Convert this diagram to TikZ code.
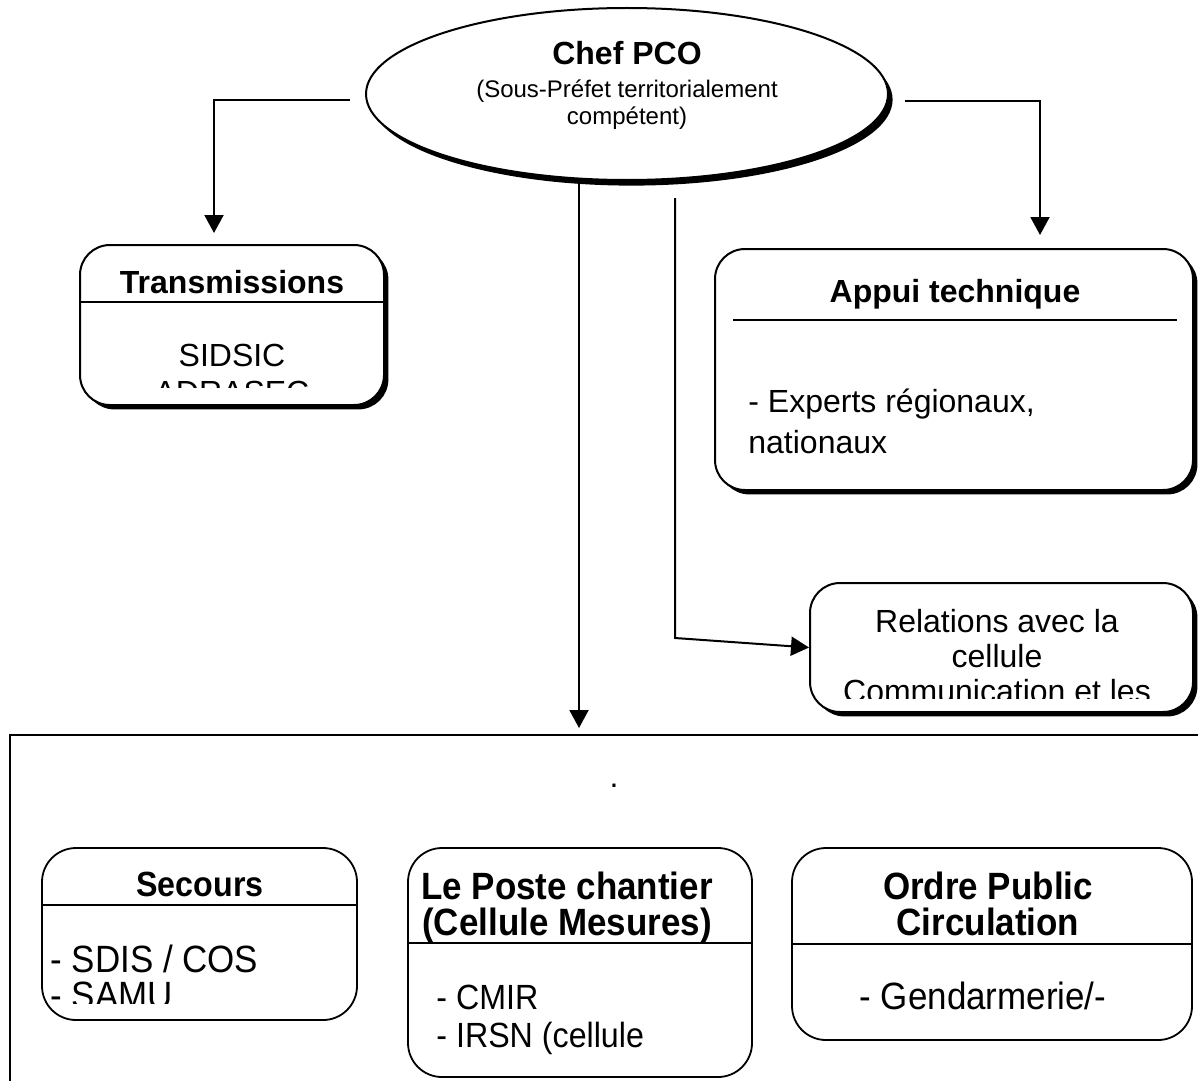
\documentclass[tikz,border=0pt]{standalone}
\usepackage{fontspec}
\setmainfont{Liberation Sans}
\newfontfamily\condfont[FakeStretch=0.92]{Liberation Sans}
\usetikzlibrary{shapes.geometric,arrows.meta,shadows}
\begin{document}
\begin{tikzpicture}[x=0.5pt,y=-0.5pt,
  conn/.style={line width=1pt},
  arr/.style={conn,-{Triangle[length=9pt,width=9.5pt]}},
  shd/.style={drop shadow={shadow xshift=2.2pt,shadow yshift=-2.2pt,fill=black,opacity=1}},
  topbox/.style={draw,line width=1pt,rounded corners=15pt,fill=white,shd,inner sep=0pt},
  botbox/.style={draw,line width=0.9pt,rounded corners=17pt,inner sep=0pt},
  sep/.style={line width=0.8pt},
  ttl/.style={font=\fontsize{16}{18}\selectfont\bfseries,align=center,inner sep=0pt,anchor=north},
  body/.style={font=\fontsize{16}{18}\selectfont,inner sep=0pt},
]
\useasboundingbox (0,0) rectangle (1198,1081);

% ---- Chef PCO ellipse
\node[ellipse,draw,line width=1pt,fill=white,inner sep=0pt,
      minimum width=261pt,minimum height=86pt,
      drop shadow={shadow xshift=2.3pt,shadow yshift=-2.8pt,fill=black,opacity=1}] (chef) at (627,94) {};
\node[font=\fontsize{16}{18}\selectfont\bfseries,inner sep=0pt,anchor=north] (chefT) at (627,41) {Chef PCO};
\node[font=\fontsize{12}{13.5}\selectfont,align=center,inner sep=0pt,anchor=north] (chefS) at (627,79) {(Sous-Préfet territorialement\\compétent)};

% ---- Transmissions
\node[topbox,minimum width=152pt,minimum height=80pt] (trans) at (232,325) {};
\node[ttl] (transT) at (232,269.5) {Transmissions};
\draw[sep] (80,302) -- (384,302);
\begin{scope}
  \clip (80,303) rectangle (384,387);
  \node[body,align=center,anchor=north,font=\fontsize{16}{18.5}\selectfont] (transB) at (232,343.5) {SIDSIC\\ADRASEC};
\end{scope}

% ---- Appui technique
\node[topbox,minimum width=239pt,minimum height=120.5pt] (app) at (954,369.5) {};
\node[ttl] (appT) at (955,278.5) {Appui technique};
\draw[sep] (733,320) -- (1177,320);
\node[body,align=left,anchor=north west,font=\fontsize{16}{20.5}\selectfont] (appB) at (748,388.5) {- Experts régionaux,\\nationaux};

% ---- Relations
\node[topbox,minimum width=191.5pt,minimum height=64.5pt] (rel) at (1001.5,647.5) {};
\begin{scope}
  \clip (810,583) rectangle (1193,698);
  \node[body,align=center,anchor=north,font=\fontsize{16}{17.5}\selectfont] (relB) at (997,608.5) {Relations avec la\\cellule\\Communication et les};
\end{scope}

% ---- big frame
\draw[line width=1.2pt] (1198,735) -- (10,735) -- (10,1081);
\node[body,anchor=base] (dot) at (614,787) {.};

% ---- Secours
\node[botbox,minimum width=157.5pt,minimum height=86pt] (sec) at (199.5,934) {};
\node[ttl,font=\condfont\fontsize{17.5}{18}\selectfont\bfseries] (secT) at (200,871.5) {Secours};
\draw[sep] (42,905) -- (357,905);
\begin{scope}
  \clip (42,906) rectangle (357,1003);
  \node[body,align=left,anchor=north west,font=\condfont\fontsize{19}{18}\selectfont] (secB) at (50,944.5) {- SDIS / COS\\- SAMU};
\end{scope}

% ---- Le Poste chantier
\node[botbox,minimum width=172pt,minimum height=114.5pt] (poste) at (580,962.5) {};
\node[ttl,font=\condfont\fontsize{19}{18}\selectfont\bfseries] (posteT) at (567,871.5) {Le Poste chantier\\(Cellule Mesures)};
\draw[sep] (408,943) -- (752,943);
\node[body,align=left,anchor=north west,font=\condfont\fontsize{17.5}{19}\selectfont] (posteB) at (436,985) {- CMIR\\- IRSN (cellule};

% ---- Ordre Public
\node[botbox,minimum width=200pt,minimum height=96pt] (ord) at (992,944) {};
\node[ttl,font=\condfont\fontsize{19}{18}\selectfont\bfseries] (ordT) at (988,871.5) {Ordre Public\\Circulation};
\draw[sep] (792,944) -- (1192,944);
\node[body,anchor=north,font=\condfont\fontsize{19}{18}\selectfont] (ordB) at (983,981.5) {- Gendarmerie/-};

% ---- connectors
\coordinate (lstart) at (350,100);
\coordinate (lend) at (214,233);
\draw[arr] (lstart) -| (lend);
\coordinate (rstart) at (905,101);
\coordinate (rend) at (1040,235);
\draw[arr] (rstart) -| (rend);
\coordinate (c1s) at (579,180);
\coordinate (c1e) at (579,728);
\draw[arr] (c1s) -- (c1e);
\coordinate (c2s) at (675,198);
\coordinate (c2m) at (675,638);
\draw[arr] (c2s) -- (c2m) -- (rel.west);
\end{tikzpicture}
\end{document}
